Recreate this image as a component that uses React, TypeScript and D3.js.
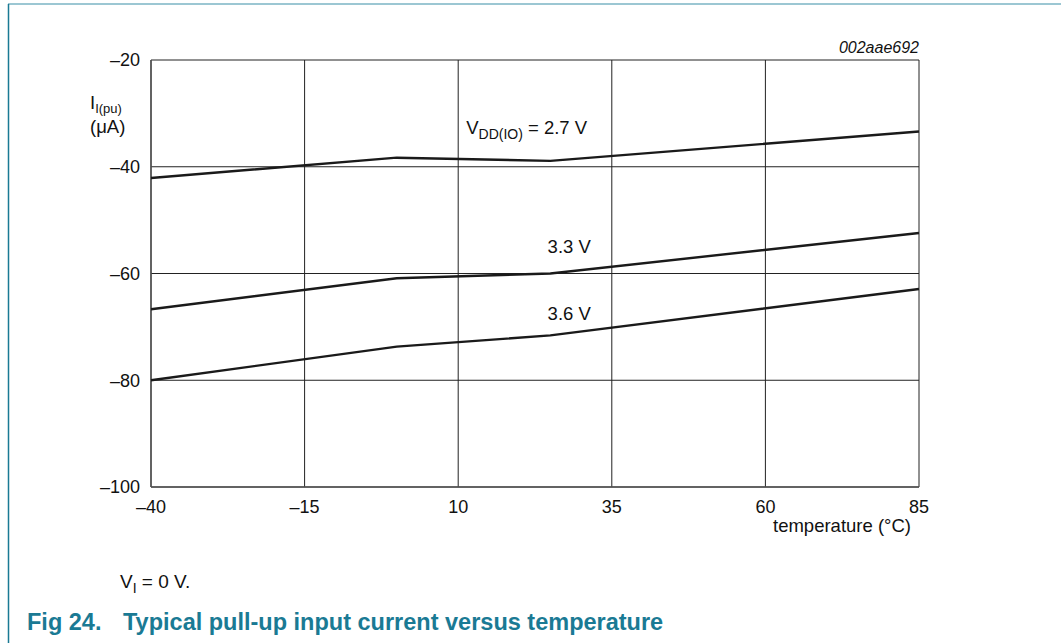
import React from 'react';
import * as d3 from 'd3';

const temps = [-40, 0, 25, 85];
const series = [
  { name: '2.7 V', values: [-42.1, -38.3, -38.9, -33.4] },
  { name: '3.3 V', values: [-66.7, -60.9, -60.0, -52.4] },
  { name: '3.6 V', values: [-80.0, -73.7, -71.6, -62.9] },
];
const xTicks = [-40, -15, 10, 35, 60, 85];
const yTicks = [-100, -80, -60, -40, -20];

const W = 1061;
const H = 643;
const margin = { left: 151, top: 60, right: 142, bottom: 156 };
const innerW = W - margin.left - margin.right;
const innerH = H - margin.top - margin.bottom;
const teal = '#1a7a94';
const font = 'Liberation Sans, Arial, sans-serif';
const minus = (v: number) => (v < 0 ? '\u2013' + Math.abs(v) : String(v));

export default function App() {
  const x = d3.scaleLinear().domain([-40, 85]).range([0, innerW]);
  const y = d3.scaleLinear().domain([-100, -20]).range([innerH, 0]);
  const line = d3
    .line<number>()
    .x((_, i) => x(temps[i]))
    .y(d => y(d));

  return (
    <svg
      width={W}
      height={H}
      style={{ position: 'absolute', left: 0, top: 0, background: '#fff' }}
      fontFamily={font}
    >
      {/* frame */}
      <line x1={8} y1={4} x2={W} y2={4} stroke="#9cc7d3" strokeWidth={2} />
      <line x1={8.5} y1={4} x2={8.5} y2={H} stroke={teal} strokeWidth={1.5} />

      <g transform={`translate(${margin.left},${margin.top})`}>
        {/* grid */}
        {xTicks.map(t => (
          <line key={'gx' + t} x1={x(t)} x2={x(t)} y1={0} y2={innerH} stroke="#222" strokeWidth={1} />
        ))}
        {yTicks.map(t => (
          <line key={'gy' + t} x1={0} x2={innerW} y1={y(t)} y2={y(t)} stroke="#222" strokeWidth={1} />
        ))}
        <line x1={0} x2={innerW} y1={innerH} y2={innerH} stroke="#555" strokeWidth={1.5} />
        <line x1={0} x2={0} y1={0} y2={innerH} stroke="#555" strokeWidth={1.5} />

        {/* series */}
        {series.map(s => (
          <path key={s.name} d={line(s.values) || ''} fill="none" stroke="#1a1a1a" strokeWidth={2.4} />
        ))}

        {/* y tick labels */}
        {yTicks.map(t => (
          <text key={'ty' + t} x={-11} y={y(t)} dy="0.36em" textAnchor="end" fontSize={18} fill="#111">
            {minus(t)}
          </text>
        ))}
        {/* x tick labels */}
        {xTicks.map(t => (
          <text key={'tx' + t} x={x(t)} y={innerH + 26} textAnchor="middle" fontSize={18} fill="#111">
            {minus(t)}
          </text>
        ))}
        <text x={innerW - 8} y={innerH + 45} textAnchor="end" fontSize={18.5} fill="#111">
          temperature (°C)
        </text>

        {/* y label */}
        <text x={-61} y={49} fontSize={18.5} fill="#111">
          I<tspan fontSize={13} dy={4}>I(pu)</tspan>
        </text>
        <text x={-61} y={73} fontSize={18.5} fill="#111">
          (μA)
        </text>

        <text x={innerW} y={-7} textAnchor="end" fontSize={16} fontStyle="italic" fill="#111">
          002aae692
        </text>

        {/* series labels */}
        <text x={x(10) + 8} y={y(-33.9)} fontSize={18.5} fill="#111">
          V<tspan fontSize={14} dy={5}>DD(IO)</tspan>
          <tspan dy={-5}> = 2.7 V</tspan>
        </text>
        <text x={x(35) - 21} y={y(-56.2)} textAnchor="end" fontSize={18.5} fill="#111">
          3.3 V
        </text>
        <text x={x(35) - 21} y={y(-68.8)} textAnchor="end" fontSize={18.5} fill="#111">
          3.6 V
        </text>
      </g>

      <text x={120} y={588} fontSize={19} fill="#111">
        V<tspan fontSize={14} dy={5}>I</tspan>
        <tspan dy={-5}> = 0 V.</tspan>
      </text>
      <text x={27} y={630} fontSize={23.5} fontWeight="bold" fill={teal}>
        Fig 24.
      </text>
      <text x={123} y={630} fontSize={23.5} fontWeight="bold" fill={teal}>
        Typical pull-up input current versus temperature
      </text>
    </svg>
  );
}
